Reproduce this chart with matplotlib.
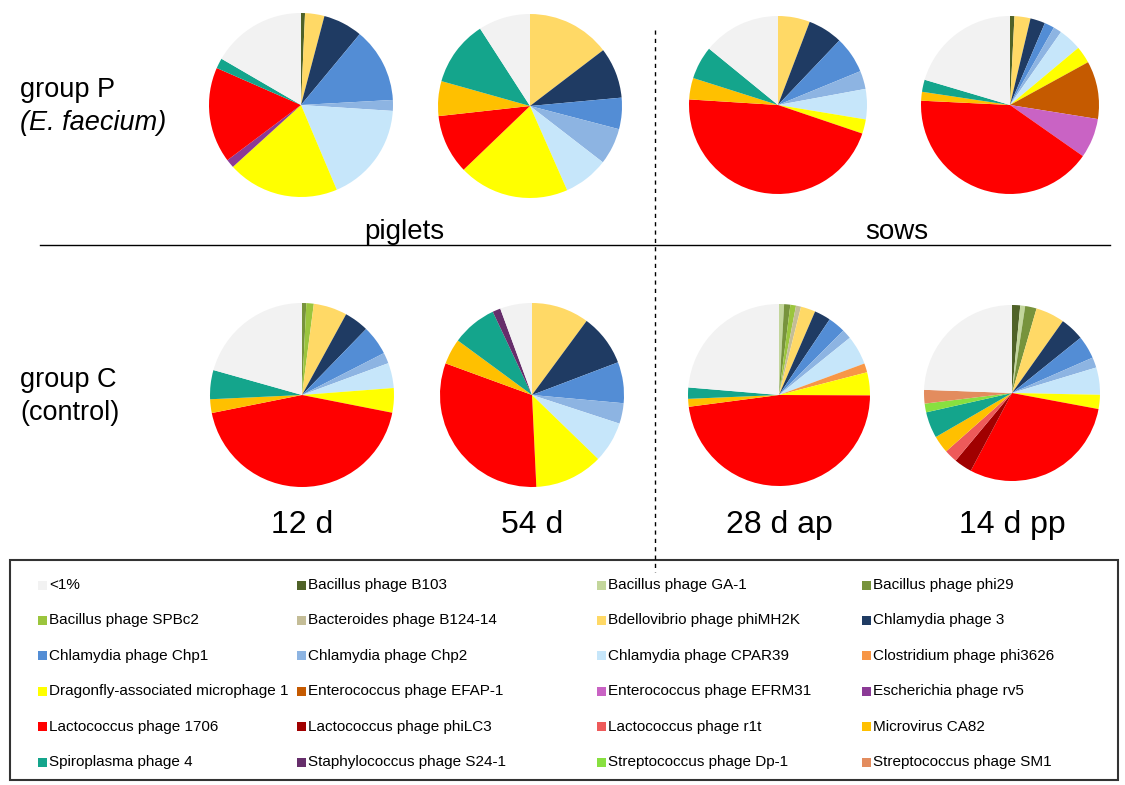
import matplotlib
matplotlib.use('Agg')
import matplotlib.pyplot as plt
from matplotlib.patches import Rectangle
from matplotlib.lines import Line2D

plt.rcParams['font.family'] = ['Liberation Sans', 'DejaVu Sans']

# phage categories, drawn clockwise from 12 o'clock in this order
phages = ['Bacillus phage B103', 'Bacillus phage GA-1', 'Bacillus phage phi29',
          'Bacillus phage SPBc2', 'Bacteroides phage B124-14', 'Bdellovibrio phage phiMH2K',
          'Chlamydia phage 3', 'Chlamydia phage Chp1', 'Chlamydia phage Chp2',
          'Chlamydia phage CPAR39', 'Clostridium phage phi3626', 'Dragonfly-associated microphage 1',
          'Enterococcus phage EFAP-1', 'Enterococcus phage EFRM31', 'Escherichia phage rv5',
          'Lactococcus phage 1706', 'Lactococcus phage phiLC3', 'Lactococcus phage r1t',
          'Microvirus CA82', 'Spiroplasma phage 4', 'Staphylococcus phage S24-1',
          'Streptococcus phage Dp-1', 'Streptococcus phage SM1', '<1%']
colors = ['#4F6228', '#C3D69B', '#77933C', '#9BC53D', '#C4BD97', '#FFD966',
          '#1F3B63', '#538DD5', '#8DB4E2', '#C6E6FA', '#F79646', '#FFFF00',
          '#C55A00', '#C963C4', '#8B3A96', '#FF0000', '#A00000', '#EE5A5A',
          '#FFC000', '#14A58C', '#662E6B', '#88E040', '#E38C5E', '#F2F2F2']

# relative abundance (%) per sample, same order as phages
p_12d = [0.7, 0, 0, 0, 0, 3.4, 6.9, 13.1, 1.9, 17.6, 0, 19.6,
         0, 0, 1.5, 16.8, 0, 0, 0, 1.8, 0, 0, 0, 16.6]
p_54d = [0, 0, 0, 0, 0, 14.6, 8.9, 5.5, 6.4, 7.9, 0, 19.4,
         0, 0, 0, 10.4, 0, 0, 6.1, 11.5, 0, 0, 0, 9.1]
p_28dap = [0, 0, 0, 0, 0, 5.8, 6.3, 6.7, 3.3, 5.5, 0, 2.6,
           0, 0, 0, 45.8, 0, 0, 3.9, 6.0, 0, 0, 0, 14.1]
p_14dpp = [0.8, 0, 0, 0, 0, 2.9, 2.7, 1.8, 1.5, 4.2, 0, 3.1,
           10.5, 7.2, 0, 41.0, 0, 0, 1.6, 2.2, 0, 0, 0, 20.4]
c_12d = [0, 0, 0.75, 1.3, 0, 5.9, 4.3, 5.2, 1.9, 4.4, 0, 4.3,
         0, 0, 0, 43.7, 0, 0, 2.4, 5.1, 0, 0, 0, 20.6]
c_54d = [0, 0, 0, 0, 0, 10.1, 9.1, 7.2, 3.6, 7.2, 0, 12.0,
         0, 0, 0, 31.3, 0, 0, 4.5, 7.9, 1.4, 0, 0, 5.6]
c_28dap = [0, 0.9, 1.1, 1.0, 0.9, 2.6, 2.9, 3.1, 1.7, 5.2, 1.6, 4.1,
           0, 0, 0, 47.9, 0, 0, 1.4, 2.0, 0, 0, 0, 23.7]
c_14dpp = [1.5, 0.9, 2.1, 0, 0, 5.3, 4.4, 4.2, 1.9, 5.0, 0, 2.6,
           0, 0, 0, 29.8, 3.3, 2.4, 3.2, 4.8, 0, 1.6, 2.5, 24.4]

time_labels = ['12 d', '54 d', '28 d ap', '14 d pp']
group_labels = ['group P', 'group C']
group_notes = ['(E. faecium)', '(control)']
host_labels = ['piglets', 'sows']

W, H = 1125, 785
fig = plt.figure(figsize=(W / 100, H / 100), dpi=100)


def fx(x):
    return x / W


def fy(y):
    return 1 - y / H


def pie_at(vals, cx, cy, r):
    ax = fig.add_axes([fx(cx - r), fy(cy + r), 2 * r / W, 2 * r / H])
    keep = [(v, c) for v, c in zip(vals, colors) if v > 0]
    ax.pie([k[0] for k in keep], colors=[k[1] for k in keep],
           startangle=90, counterclock=False,
           wedgeprops=dict(linewidth=0))
    ax.set_xlim(-1, 1)
    ax.set_ylim(-1, 1)
    ax.set_aspect('equal')
    ax.axis('off')


rows = [[p_12d, p_54d, p_28dap, p_14dpp], [c_12d, c_54d, c_28dap, c_14dpp]]
centers = [[(301, 105, 92), (530, 106, 92), (778, 105, 89), (1010, 105, 89)],
           [(302, 395, 92), (532, 395, 92), (779, 395, 91), (1012, 393, 88)]]
for row, cen in zip(rows, centers):
    for vals, (cx, cy, r) in zip(row, cen):
        pie_at(vals, cx, cy, r)

# row labels
for i, (g, n) in enumerate(zip(group_labels, group_notes)):
    y0 = 97 + i * 290
    fig.text(fx(20), fy(y0), g, fontsize=19.5, va='baseline', ha='left')
    fig.text(fx(20), fy(y0 + 33), n, fontsize=19.5, va='baseline', ha='left',
             style='italic' if i == 0 else 'normal')

# host labels and dividers
fig.text(fx(404), fy(232), host_labels[0], fontsize=20, ha='center', va='center')
fig.text(fx(897), fy(232), host_labels[1], fontsize=20, ha='center', va='center')
fig.add_artist(Line2D([fx(40), fx(1110)], [fy(245), fy(245)], color='black', lw=1))
fig.add_artist(Line2D([fx(655), fx(655)], [fy(30), fy(572)], color='black', lw=1,
                      linestyle=(0, (3, 3))))

# sampling time labels
for lab, (cx, cy, r) in zip(time_labels, centers[1]):
    fig.text(fx(cx), fy(525), lab, fontsize=23, ha='center', va='center')

# legend box, filled row by row
fig.add_artist(Rectangle((fx(10), fy(780)), fx(1108), (780 - 560) / H,
                         fill=False, edgecolor='#333333', lw=1.5))
legend_order = [phages[-1]] + phages[:-1]
legend_cols = [colors[-1]] + colors[:-1]
col_x = [42, 301, 601, 866]
for k, (name, col) in enumerate(zip(legend_order, legend_cols)):
    r, c = divmod(k, 4)
    y = 585 + r * 35.4
    x = col_x[c]
    fig.add_artist(Rectangle((fx(x - 4.5), fy(y + 4.5)), 9 / W, 9 / H,
                             facecolor=col, edgecolor='none'))
    fig.text(fx(x + 7), fy(y), name, fontsize=11, ha='left', va='center')

fig.savefig('out.png', dpi=100)
